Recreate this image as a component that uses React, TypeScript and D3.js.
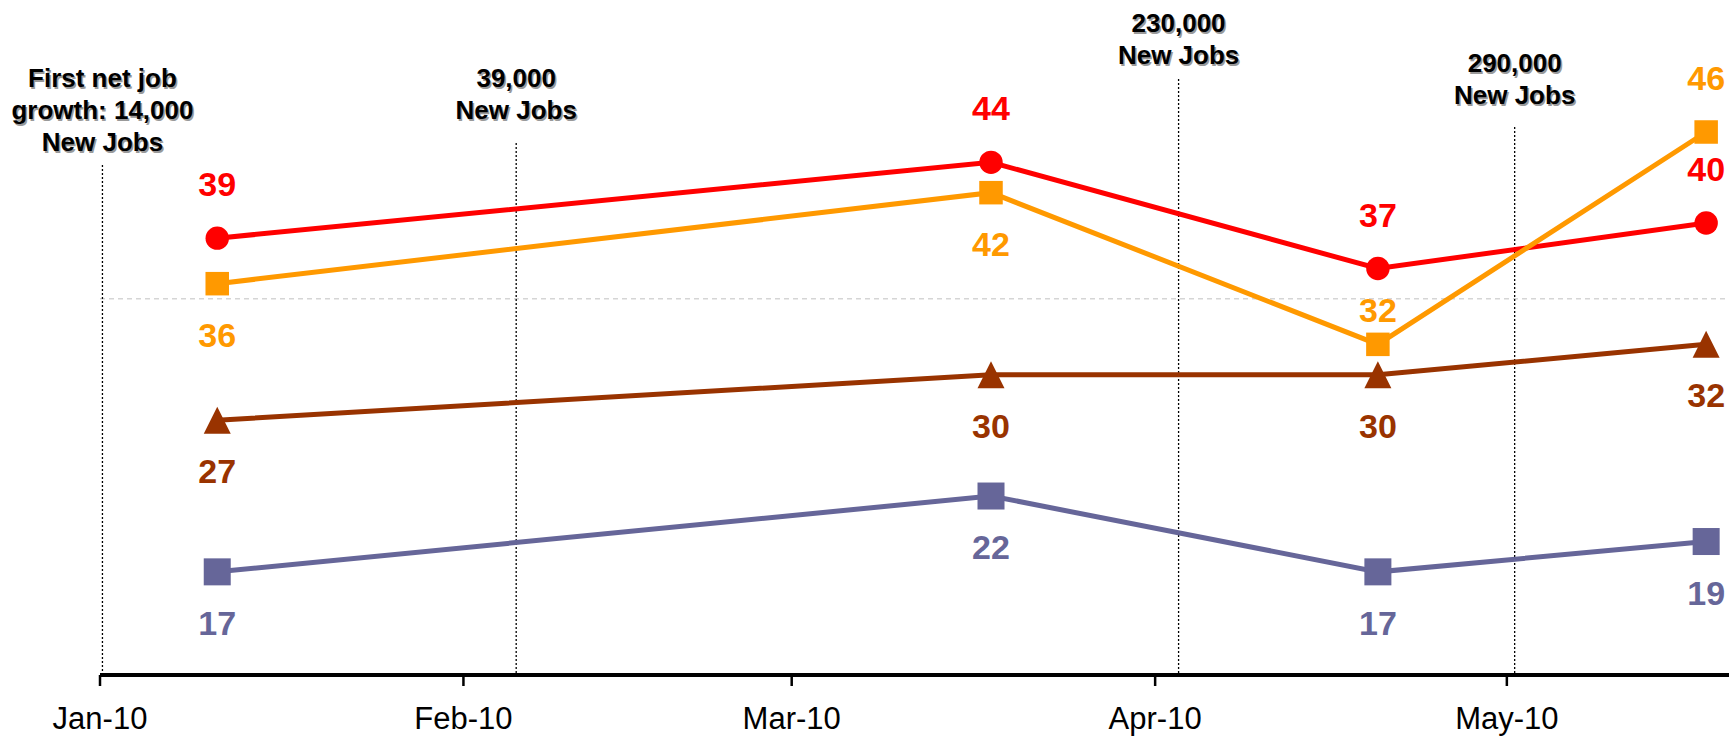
import * as d3 from "d3";
import React from "react";

// survey dates (x) and the four series
const pointDates = ["2010-01-11", "2010-03-18", "2010-04-20", "2010-05-18"];
const redValues = [39, 44, 37, 40];
const orangeValues = [36, 42, 32, 46];
const brownValues = [27, 30, 30, 32];
const blueValues = [17, 22, 17, 19];

// label placement per point
const redPlace = ["above", "above", "above", "above"];
const orangePlace = ["below", "below", "near", "above"];
const brownPlace = ["below", "below", "below", "below"];
const bluePlace = ["below", "below", "below", "below"];

const monthTicks = ["2010-01-01", "2010-02-01", "2010-03-01", "2010-04-01", "2010-05-01"];
const gridValues = [35];

// jobs report markers
const eventDates = ["2010-01-01T05:00Z", "2010-02-05T12:00Z", "2010-04-03T00:00Z", "2010-05-01T16:00Z"];
const eventLines = [
  ["First net job", "growth: 14,000", "New Jobs"],
  ["39,000", "New Jobs"],
  ["230,000", "New Jobs"],
  ["290,000", "New Jobs"],
];
const eventTextTop = [87, 87, 32, 72];
const eventLineTop = [165, 143, 79, 127];

const W = 1729;
const H = 737;
const FONT = "'Liberation Sans', Arial, Helvetica, sans-serif";

type Series = {
  key: string;
  color: string;
  values: number[];
  place: string[];
  shape: "circle" | "square" | "triangle";
  size: number;
};

const series: Series[] = [
  { key: "red", color: "#FF0000", values: redValues, place: redPlace, shape: "circle", size: 11.7 },
  { key: "orange", color: "#FF9900", values: orangeValues, place: orangePlace, shape: "square", size: 23.5 },
  { key: "brown", color: "#993300", values: brownValues, place: brownPlace, shape: "triangle", size: 27 },
  { key: "blue", color: "#666699", values: blueValues, place: bluePlace, shape: "square", size: 27 },
];

export default function App() {
  const parse = (s: string) => new Date(s.length === 10 ? s + "T00:00Z" : s);
  const x = d3.scaleUtc()
    .domain([parse("2010-01-01"), parse("2010-05-20")])
    .range([100, 1729.6]);
  const y = d3.scaleLinear().domain([10.2, 46]).range([675, 132]);
  const axisY = y(10.2);
  const fmt = d3.utcFormat("%b-%y");

  const line = d3.line<[Date, number]>()
    .x(d => x(d[0]))
    .y(d => y(d[1]));

  const labelDy = (p: string) => (p === "above" ? -42 : p === "near" ? -22 : 63);

  return (
    <svg width={W} height={H} style={{ position: "absolute", left: 0, top: 0, background: "#fff" }}>
      {/* gridline */}
      {gridValues.map(v => (
        <line key={v} x1={x(parse(monthTicks[0]))} x2={W} y1={y(v)} y2={y(v)}
          stroke="#c0c0c0" strokeWidth={1} strokeDasharray="5,4" />
      ))}

      {/* jobs report markers */}
      {eventDates.map((d, i) => {
        const ex = x(parse(d));
        return (
          <g key={d}>
            <line x1={ex} x2={ex} y1={eventLineTop[i]} y2={axisY}
              stroke="#000" strokeWidth={1.3} strokeDasharray="2,2" />
            {eventLines[i].map((t, j) => (
              <g key={j} fontFamily={FONT} fontWeight="bold" fontSize={26} textAnchor="middle">
                <text x={ex + 1.5} y={eventTextTop[i] + j * 32 + 1.5} fill="#9a9a9a">{t}</text>
                <text x={ex} y={eventTextTop[i] + j * 32} fill="#000">{t}</text>
              </g>
            ))}
          </g>
        );
      })}

      {/* axis */}
      <line x1={x(parse(monthTicks[0]))} x2={W} y1={axisY} y2={axisY} stroke="#000" strokeWidth={4} />
      {monthTicks.map(t => {
        const tx = x(parse(t));
        return (
          <g key={t}>
            <line x1={tx} x2={tx} y1={axisY} y2={axisY + 11} stroke="#000" strokeWidth={2.5} />
            <text x={tx} y={729} textAnchor="middle" fontFamily={FONT} fontSize={31} fill="#000">
              {fmt(parse(t))}
            </text>
          </g>
        );
      })}

      {/* series */}
      {series.map(s => {
        const pts: [Date, number][] = s.values.map((v, i) => [parse(pointDates[i]), v]);
        return (
          <g key={s.key}>
            <path d={line(pts) ?? ""} fill="none" stroke={s.color} strokeWidth={5} />
            {pts.map((p, i) => {
              const px = x(p[0]);
              const py = y(p[1]);
              let mark;
              if (s.shape === "circle") {
                mark = <circle cx={px} cy={py} r={s.size} fill={s.color} />;
              } else if (s.shape === "square") {
                mark = <rect x={px - s.size / 2} y={py - s.size / 2} width={s.size} height={s.size} fill={s.color} />;
              } else {
                const h = s.size;
                mark = (
                  <path d={`M${px},${py - h / 2}L${px + h / 2},${py + h / 2}L${px - h / 2},${py + h / 2}Z`}
                    fill={s.color} />
                );
              }
              return (
                <g key={i}>
                  {mark}
                  <text x={px} y={py + labelDy(s.place[i])} textAnchor="middle"
                    fontFamily={FONT} fontWeight="bold" fontSize={34} fill={s.color}>
                    {p[1]}
                  </text>
                </g>
              );
            })}
          </g>
        );
      })}
    </svg>
  );
}
